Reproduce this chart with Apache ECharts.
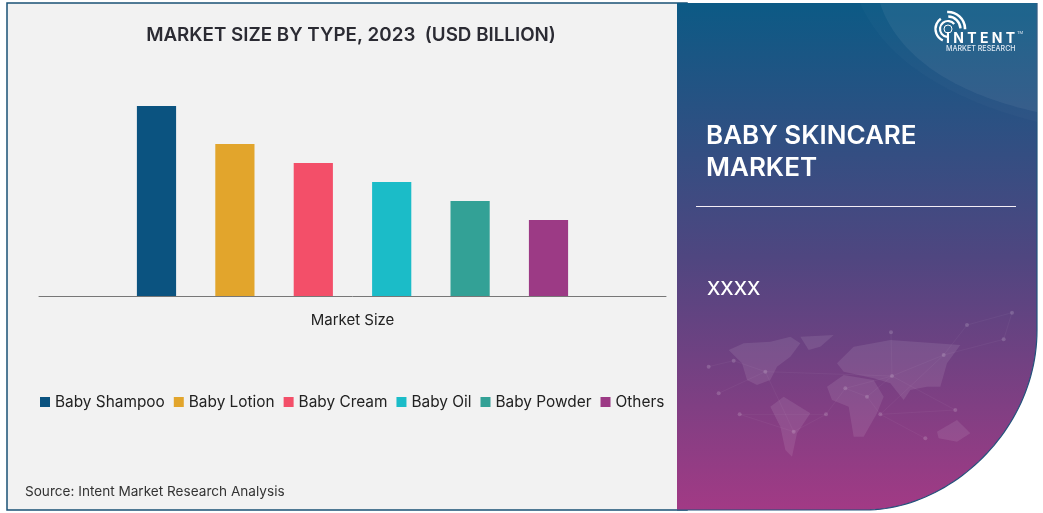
<!DOCTYPE html>
<html><head><meta charset="utf-8">
<style>html,body{margin:0;padding:0;background:#fff}#c{width:1043px;height:513px}</style>
<script src="https://cdn.jsdelivr.net/npm/echarts@6/dist/echarts.min.js"></script>
</head><body><div id="c"></div>
<script>
const categories = ['Market Size'];
const seriesNames = ['Baby Shampoo','Baby Lotion','Baby Cream','Baby Oil','Baby Powder','Others'];
const seriesValues = [10,8,7,6,5,4];
const seriesColors = ['#0b5380','#e2a52c','#f34f69','#1bbcc8','#33a196','#9c3a85'];
const FONT = 'Inter';
const DARK = '#222222';

// decorative world map, in zoom-crop units of the right panel (x/3+677, y/3+300)
const continents = [
 [[155,150],[200,130],[280,125],[340,110],[370,130],[340,170],[300,200],[280,240],[240,255],[210,240],[195,190]],
 [[370,110],[470,105],[430,140],[395,150]],
 [[280,320],[320,290],[400,340],[360,400],[345,470],[325,450],[310,380]],
 [[450,260],[500,225],[590,240],[620,290],[600,340],[560,410],[530,410],[515,320],[465,300]],
 [[480,190],[530,140],[640,120],[850,135],[810,190],[790,260],[750,260],[700,270],[680,300],[640,250],[590,235],[500,215]],
 [[780,395],[840,360],[880,400],[840,425],[785,415]]
];
const nodes = [[95,200],[170,182],[125,280],[188,343],[265,215],[350,395],[447,343],[505,265],[570,290],[610,343],[645,228],[800,165],[980,118],[1005,38],[870,75],[642,97],[745,415],[835,330]];
const links = [[0,1],[1,4],[2,4],[3,6],[4,10],[5,6],[6,7],[7,8],[8,9],[7,10],[10,11],[11,12],[12,13],[11,14],[14,13],[10,15],[9,16],[9,17],[10,17],[3,5],[8,10],[4,5],[11,9]];
const mx = p => [p[0]/3+677, p[1]/3+300];
function bez(p0,p1,p2,p3,n){const o=[];for(let i=0;i<=n;i++){const t=i/n,u=1-t;o.push([u*u*u*p0[0]+3*u*u*t*p1[0]+3*u*t*t*p2[0]+t*t*t*p3[0],u*u*u*p0[1]+3*u*u*t*p1[1]+3*u*t*t*p2[1]+t*t*t*p3[1]]);}return o;}

const decor = [];
const edge = bez([1037,330],[1037,430],[950,510],[865,510],50);
decor.push({type:'rect',silent:true,z:0,shape:{x:7,y:3,width:680,height:507},style:{fill:'#f2f2f2',stroke:'#1a5276',lineWidth:1.5}});
decor.push({type:'polygon',silent:true,z:1,shape:{points:[[677,3],[1037,3]].concat(edge,[[677,510]])},
  style:{fill:{type:'linear',x:0,y:0,x2:0,y2:1,global:false,colorStops:[{offset:0,color:'#0c5a85'},{offset:0.5,color:'#4f4680'},{offset:1,color:'#a23a85'}]}}});
decor.push({type:'polyline',silent:true,z:2,shape:{points:[[1037,3]].concat(edge,[[677,510]])},style:{fill:'none',stroke:'#23527c',lineWidth:1.2}});
decor.push({type:'polygon',silent:true,z:2,shape:{points:bez([860,3],[885,60],[950,100],[1037,122],40).concat([[1037,3]])},style:{fill:'rgba(255,255,255,0.02)'}});
decor.push({type:'polygon',silent:true,z:2,shape:{points:bez([880,3],[895,50],[945,92],[1037,112],40).concat([[1037,3]])},style:{fill:'rgba(255,255,255,0.055)'}});
continents.forEach(c=>decor.push({type:'polygon',silent:true,z:2,shape:{points:c.map(mx)},style:{fill:'rgba(255,255,255,0.09)'}}));
links.forEach(l=>{const a=mx(nodes[l[0]]),b=mx(nodes[l[1]]);decor.push({type:'line',silent:true,z:2,shape:{x1:a[0],y1:a[1],x2:b[0],y2:b[1]},style:{stroke:'rgba(255,255,255,0.06)',lineWidth:0.7}})});
nodes.forEach(n=>{const a=mx(n);decor.push({type:'circle',silent:true,z:2,shape:{cx:a[0],cy:a[1],r:2},style:{fill:'rgba(255,255,255,0.16)'}})});
// logo arcs: radius, start, end, width
[[17,-1.62,0.02,2.6],[12.5,-1.55,-0.05,2.4],[12.5,2.0,4.1,2.4],[8,1.7,5.6,2.2],[4,0,6.28,1]].forEach(function(a){
  decor.push({type:'arc',silent:true,z:3,shape:{cx:948,cy:29,r:a[0],startAngle:a[1],endAngle:a[2],clockwise:true},style:{fill:'none',stroke:'#fff',lineWidth:a[3]}});
});
function t(text,x,y,size,weight,fill){return {type:'text',silent:true,z:4,x:x,y:y,style:{text:text,fontFamily:FONT,fontSize:size,fontWeight:weight,fill:fill,verticalAlign:'middle'}}}
decor.push(t('I N T E N T',946,39,14,700,'#fff'));
decor.push(t('MARKET RESEARCH',946,49,7.1,500,'#dfe8f2'));
decor.push(t('TM',1017,33,4,400,'#dfe8f2'));
decor.push(t('BABY SKINCARE',706,136,26,600,'#fff'));
decor.push(t('MARKET',706,168,26,600,'#fff'));
decor.push({type:'rect',silent:true,z:4,shape:{x:696,y:206,width:320,height:1},style:{fill:'#f4eef6'}});
decor.push(t('XXXX',707,289,19,500,'#fff'));
decor.push(t('Source: Intent Market Research Analysis',25,492,13.6,400,'#333333'));

const option = {
  animation:false,
  backgroundColor:'#ffffff',
  textStyle:{fontFamily:FONT},
  title:{text:'MARKET SIZE BY TYPE, 2023  (USD BILLION)',left:346,textAlign:'center',top:21,textStyle:{fontFamily:FONT,fontSize:18.8,fontWeight:600,color:'#2b2b33'},z:10},
  legend:{left:40,top:394.5,padding:0,itemWidth:10,itemHeight:10,itemGap:9,icon:'rect',data:seriesNames,z:10,textStyle:{fontFamily:FONT,fontSize:15.4,color:DARK},selectedMode:false},
  grid:{left:39,right:377,top:87,bottom:217,containLabel:false},
  xAxis:{type:'category',data:categories,axisLine:{lineStyle:{color:'#777777',width:1}},axisTick:{show:false},axisLabel:{fontFamily:FONT,fontSize:15,color:DARK,margin:17}},
  yAxis:{type:'value',min:0,max:11,show:false,splitLine:{show:false}},
  graphic:decor,
  series:seriesNames.map((n,i)=>({name:n,type:'bar',barWidth:39.2,barGap:'100%',z:5,itemStyle:{color:seriesColors[i]},data:[seriesValues[i]]}))
};
const chart=echarts.init(document.getElementById('c'),null,{renderer:'canvas'});
chart.setOption(option);
</script></body></html>
